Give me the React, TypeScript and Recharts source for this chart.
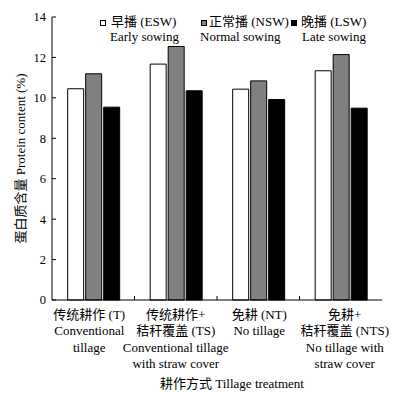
import React from 'react';
import { BarChart, Bar, XAxis, YAxis, Legend } from 'recharts';

const FONT = "'Liberation Serif', 'Times New Roman', 'Noto Sans CJK SC', serif";

const categories = ['T', 'TS', 'NT', 'NTS'];
const categoryLines = [
  ['传统耕作 (T)', 'Conventional', 'tillage'],
  ['传统耕作+', '秸秆覆盖 (TS)', 'Conventional tillage', 'with straw cover'],
  ['免耕 (NT)', 'No tillage'],
  ['免耕+', '秸秆覆盖 (NTS)', 'No tillage with', 'straw cover'],
];
const earlySowing = [10.45, 11.67, 10.43, 11.34];
const normalSowing = [11.19, 12.54, 10.84, 12.14];
const lateSowing = [9.54, 10.35, 9.92, 9.49];
const yTicks = [0, 2, 4, 6, 8, 10, 12, 14];
const seriesNames = ['早播 (ESW)', '正常播 (NSW)', '晚播 (LSW)'];
const seriesSubNames = ['Early sowing', 'Normal sowing', 'Late sowing'];
const yTitle = '蛋白质含量 Protein content (%)';
const xTitle = '耕作方式 Tillage treatment';

const data = categories.map((c, i) => ({
  cat: c,
  esw: earlySowing[i],
  nsw: normalSowing[i],
  lsw: lateSowing[i],
}));

// layout / style constants
const W = 412;
const H = 398;
const MARGIN = { top: 17, right: 30, left: 0, bottom: 0 };
const Y_W = 52;
const X_H = 98;
const PLOT_W = W - MARGIN.right - Y_W - MARGIN.left;
const PLOT_H = H - MARGIN.top - X_H;
const BAND = PLOT_W / categories.length;
const LABEL_DX = [-4, 0, 1, 4];
const FILLS = ['#ffffff', '#808080', '#000000'];
const LEGEND_POS = [
  { sq: 100, t1: 111, t2: 110 },
  { sq: 201, t1: 209, t2: 200 },
  { sq: 291, t1: 301, t2: 302 },
];

const XTick = (props: any) => {
  const { x, y, payload } = props;
  const idx = categories.indexOf(payload.value);
  const lines = categoryLines[idx] || [];
  const dx = LABEL_DX[idx] || 0;
  return (
    <g>
      {idx < categories.length - 1 && (
        <line x1={x + BAND / 2} x2={x + BAND / 2} y1={y} y2={y - 4} stroke="#000" strokeWidth={1} />
      )}
      <text x={x + dx} y={y + 19} textAnchor="middle" fontSize={13} fontFamily={FONT} fill="#000">
        {lines.map((l, i) => (
          <tspan key={i} x={x + dx} dy={i === 0 ? 0 : 16.3}>
            {l}
          </tspan>
        ))}
      </text>
    </g>
  );
};

const YTick = (props: any) => {
  const { x, y, payload } = props;
  return (
    <g>
      <line x1={x + 6} x2={x + 10} y1={y} y2={y} stroke="#000" strokeWidth={1} />
      <text x={x} y={y} dy="0.35em" textAnchor="end" fontSize={12.5} fontFamily={FONT} fill="#000">
        {payload.value}
      </text>
    </g>
  );
};

const YTitle = (props: any) => {
  const vb = props.viewBox || {};
  const cy = vb.y != null && vb.height != null ? vb.y + vb.height / 2 : MARGIN.top + PLOT_H / 2;
  const cx = (vb.x != null ? vb.x : 0) + 20;
  return (
    <text
      x={cx}
      y={cy}
      transform={`rotate(-90 ${cx} ${cy})`}
      textAnchor="middle"
      dominantBaseline="central"
      fontSize={13}
      fontFamily={FONT}
      fill="#000"
    >
      {yTitle}
    </text>
  );
};

const XTitle = (props: any) => {
  const vb = props.viewBox || {};
  const cx = (vb.x != null ? vb.x + vb.width / 2 : Y_W + PLOT_W / 2) + 15;
  const cy = (vb.y != null ? vb.y : MARGIN.top + PLOT_H) + 88;
  return (
    <text x={cx} y={cy} textAnchor="middle" fontSize={13} fontFamily={FONT} fill="#000">
      {xTitle}
    </text>
  );
};

const LegendContent = () => (
  <div style={{ position: 'relative', width: W, height: 50, fontFamily: FONT, fontSize: 13, color: '#000' }}>
    {seriesNames.map((n, i) => (
      <React.Fragment key={n}>
        <div
          style={{
            position: 'absolute',
            left: LEGEND_POS[i].sq,
            top: 20,
            width: 6,
            height: 6,
            boxSizing: 'border-box',
            border: '1px solid #000',
            background: FILLS[i],
          }}
        />
        <div style={{ position: 'absolute', left: LEGEND_POS[i].t1, top: 15, lineHeight: '14px', whiteSpace: 'nowrap' }}>
          {n}
        </div>
        <div style={{ position: 'absolute', left: LEGEND_POS[i].t2, top: 30, lineHeight: '13px', whiteSpace: 'nowrap' }}>
          {seriesSubNames[i]}
        </div>
      </React.Fragment>
    ))}
  </div>
);

export default function App() {
  return (
    <div style={{ position: 'absolute', left: 0, top: 0, width: W, height: H, background: '#fff' }}>
      <BarChart width={W} height={H} data={data} margin={MARGIN} barCategoryGap="19%" barGap={2}>
        <XAxis
          dataKey="cat"
          height={X_H}
          interval={0}
          tickSize={0}
          tickMargin={0}
          tickLine={false}
          axisLine={{ stroke: '#000', strokeWidth: 1 }}
          tick={XTick}
          label={(p: any) => <XTitle {...p} />}
        />
        <YAxis
          domain={[0, 14]}
          ticks={yTicks}
          interval={0}
          width={Y_W}
          tickSize={0}
          tickMargin={6}
          tickLine={false}
          axisLine={{ stroke: '#000', strokeWidth: 1 }}
          tick={YTick}
          label={(p: any) => <YTitle {...p} />}
        />
        <Legend
          layout="vertical"
          align="center"
          verticalAlign="middle"
          content={LegendContent}
          wrapperStyle={{ left: 0, top: 0, width: W, height: 50 }}
        />
        <Bar dataKey="esw" name={seriesNames[0]} fill={FILLS[0]} stroke="#000" strokeWidth={1} isAnimationActive={false} />
        <Bar dataKey="nsw" name={seriesNames[1]} fill={FILLS[1]} stroke="#000" strokeWidth={1} isAnimationActive={false} />
        <Bar dataKey="lsw" name={seriesNames[2]} fill={FILLS[2]} stroke="#000" strokeWidth={1} isAnimationActive={false} />
      </BarChart>
    </div>
  );
}
